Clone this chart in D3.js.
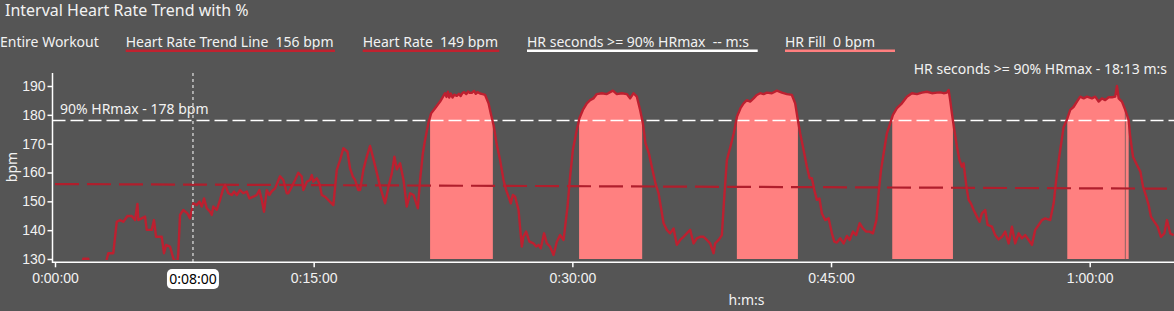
<!DOCTYPE html>
<html><head><meta charset="utf-8">
<script src="https://cdn.jsdelivr.net/npm/d3@7"></script>
<style>
html,body{margin:0;padding:0;background:#555555;overflow:hidden}
svg{display:block;font-family:"Segoe UI","Noto Sans",sans-serif}
text{white-space:pre}
</style></head><body>
<svg id="c" width="1174" height="311"></svg>
<script>
// ---------------- DATA ----------------
const hrMinutes = [0.00,1.00,1.60,1.64,1.93,1.97,2.50,2.95,3.00,3.09,3.38,3.58,3.77,3.96,4.20,4.45,4.64,4.78,4.83,5.22,5.32,5.61,5.74,5.86,6.19,6.32,6.44,6.67,6.86,7.00,7.10,7.15,7.25,7.44,7.68,7.83,7.93,8.02,8.22,8.37,8.51,8.64,8.80,8.99,9.09,9.18,9.38,9.57,9.73,9.86,10.05,10.25,10.38,10.54,10.73,10.92,11.12,11.27,11.50,11.70,11.85,11.99,12.12,12.28,12.43,12.57,12.76,13.05,13.24,13.44,13.53,13.73,13.92,14.11,14.31,14.40,14.60,14.79,14.89,14.98,15.18,15.33,15.47,15.66,16.14,16.34,16.53,16.72,16.96,17.11,17.27,17.40,17.59,17.69,17.88,18.08,18.27,18.43,18.62,18.85,19.14,19.34,19.53,19.68,19.82,20.01,20.21,20.40,20.59,20.79,21.04,21.17,21.33,21.46,21.65,21.81,22.04,22.33,22.62,22.70,22.78,22.86,22.95,23.05,23.15,23.30,23.42,23.52,23.62,23.72,23.85,23.95,24.05,24.17,24.30,24.40,24.50,24.65,24.80,24.94,25.14,25.27,25.43,25.62,25.81,26.01,26.16,26.30,26.43,26.55,26.68,26.88,27.07,27.16,27.32,27.51,27.75,27.90,28.04,28.17,28.36,28.52,28.71,28.91,29.10,29.29,29.49,29.72,29.87,30.03,30.22,30.41,30.61,30.84,31.03,31.22,31.42,31.71,32.00,32.35,32.58,32.87,33.16,33.35,33.55,33.74,33.93,34.09,34.24,34.44,34.63,34.82,35.00,35.29,35.48,35.67,35.87,36.06,36.25,36.45,36.64,36.83,37.03,37.22,37.41,37.61,37.80,37.99,38.19,38.28,38.48,38.67,38.81,38.96,39.17,39.36,39.55,39.75,39.93,40.12,40.31,40.51,40.70,40.89,41.09,41.28,41.57,41.86,42.15,42.44,42.73,42.92,43.06,43.21,43.41,43.60,43.76,43.89,44.03,44.18,44.33,44.47,44.66,44.86,45.05,45.19,45.34,45.53,45.73,45.92,46.08,46.27,46.46,46.66,46.85,47.04,47.24,47.43,47.63,47.76,47.90,48.05,48.24,48.43,48.59,48.82,49.11,49.40,49.69,49.98,50.27,50.56,50.85,51.14,51.33,51.53,51.72,51.82,51.91,52.01,52.15,52.30,52.45,52.59,52.69,52.78,52.88,52.98,53.11,53.27,53.46,53.61,53.75,53.94,54.08,54.33,54.52,54.72,54.91,55.10,55.30,55.49,55.68,55.88,56.07,56.26,56.46,56.65,56.84,57.04,57.23,57.42,57.71,57.91,58.10,58.29,58.49,58.68,58.87,59.07,59.26,59.45,59.65,59.84,60.13,60.32,60.52,60.71,60.90,61.10,61.29,61.48,61.58,61.68,61.87,62.06,62.26,62.35,62.51,62.74,62.94,63.09,63.28,63.42,63.55,63.75,63.94,64.13,64.33,64.48,64.67,64.87];
const hrBpm = [122,124,127,130.1,130.1,127,126,128.5,129.9,132.0,132.0,142.9,143.5,142.9,144.9,144.9,143.5,149.1,143.5,144.7,140.1,140.1,143.5,137.7,137.7,132.0,134.9,134.3,130.2,129.0,129.3,132.0,145.3,147.0,145.8,144.1,147.0,149.3,148.7,149.9,148.2,151.0,147.6,146.4,145.3,148.2,147.0,150.5,153.9,155.7,152.8,152.2,153.4,152.2,153.9,152.8,153.4,151.0,151.6,152.2,153.9,150.5,146.4,153.9,152.2,153.5,154.5,158.7,157.4,152.8,152.8,155.1,157.4,159.9,158.6,153.9,156.8,157.4,159.1,156.8,158.0,156.2,152.2,151.6,148.7,160.9,164.3,168.4,167.2,161.4,158.6,157.4,153.9,153.9,160.9,165.5,169.2,165.5,160.9,155.1,149.3,155.1,159.7,165.5,161.1,163.2,157.4,148.2,152.8,152.2,147.6,157.4,166.6,171.3,177.1,180.5,182.3,184.6,187.5,186.2,188.0,186.0,187.4,186.0,187.0,186.6,187.3,186.5,187.5,187.9,187.2,188.1,187.6,187.6,188.3,187.3,187.9,187.4,187.2,186.9,184.0,180.5,176.5,169.5,164.3,157.4,153.9,151.6,149.3,152.2,151.6,147.0,134.3,137.7,139.5,136.0,135.4,134.3,134.9,133.7,138.9,135.4,134.3,131.4,136.0,138.3,136.6,148.2,158.6,167.8,173.6,178.8,181.7,184.0,185.1,185.7,187.2,187.5,187.2,188.4,187.2,187.5,187.2,185.7,187.5,186.3,181.7,177.1,170.1,166.6,161.4,156.2,152.8,142.4,140.1,138.9,140.6,134.9,136.6,137.7,138.9,140.1,135.4,137.2,137.7,137.7,136.6,135.4,132.0,135.4,136.6,138.3,151.6,164.3,169.0,173.6,179.4,182.3,184.0,185.1,184.6,185.7,186.9,187.5,187.2,187.7,187.5,188.4,187.7,187.2,186.9,184.0,178.8,173.6,167.8,162.0,158.0,158.0,153.9,150.5,151.0,145.8,143.5,144.1,138.9,136.0,135.7,137.2,135.4,138.0,136.6,139.5,138.3,142.4,140.6,139.5,139.5,138.9,143.5,152.8,160.9,166.6,173.6,177.0,180.0,182.3,184.0,186.3,187.5,187.2,187.7,188.0,187.5,187.7,187.8,187.5,187.7,188.6,185.1,180.5,174.7,169.0,164.3,162.0,163.2,158.6,153.9,150.5,149.3,147.0,144.7,142.9,145.8,147.0,141.8,141.2,138.3,136.8,137.7,139.5,135.4,141.2,135.4,138.9,137.2,138.3,136.6,134.9,140.1,141.8,143.5,144.1,143.5,149.3,159.7,167.8,175.8,178.3,181.7,182.8,184.6,186.3,185.7,186.3,185.7,186.3,184.6,185.7,185.1,186.1,186.1,186.3,190.0,185.7,184.6,181.7,178.2,172.4,165.5,162.6,160.3,155.1,151.6,148.7,144.7,142.9,141.2,137.7,138.9,143.5,138.9,138.3];
const fillStartMinutes = [21.75, 30.39, 39.54, 48.55, 58.70, 62.08];
const fillEndMinutes   = [25.39, 34.05, 43.08, 52.07, 62.04, 62.26];
const trendMinutes = [0, 64.5];
const trendBpm = [156.0, 154.4];
const hrMaxBpm = 178;
const cursorMinute = 8;
const xTickMinutes = [0, 15, 30, 45, 60];
const yTickBpm = [130, 140, 150, 160, 170, 180, 190];
const titleText = "Interval Heart Rate Trend with %";
const legendLabels = ["Entire Workout", "Heart Rate Trend Line  156 bpm", "Heart Rate  149 bpm", "HR seconds >= 90% HRmax  -- m:s", "HR Fill  0 bpm"];
const hrMaxLabel = "90% HRmax - 178 bpm";
const secondsLabel = "HR seconds >= 90% HRmax - 18:13 m:s";

// ---------------- DRAW ----------------
const svg = d3.select("#c");
const W = 1174, H = 311;
const C = {bg:"#555555", text:"#f2f2f2", line:"#bd2030", trend:"#b01e2c", fill:"#ff8080"};

const x = d3.scaleLinear().domain([0, 65]).range([55, 55 + 65 * 17.245]);
const y = d3.scaleLinear().domain([130, 190]).range([259, 86]);
const plotTop = 73, axisY = 262.3, axisX = 52.5;

const fmt = m => { const s = Math.round(m*60); const h = Math.floor(s/3600), mm = Math.floor((s%3600)/60), ss = s%60;
  return h + ":" + String(mm).padStart(2,"0") + ":" + String(ss).padStart(2,"0"); };

const hr = hrMinutes.map((t,i) => [t, hrBpm[i]]);
const defs = svg.append("defs");
defs.append("clipPath").attr("id","plot").append("rect")
  .attr("x", axisX + 1).attr("y", plotTop).attr("width", W - axisX).attr("height", 260 - plotTop);

// title
svg.append("text").attr("x", 5).attr("y", 16).attr("fill", C.text).attr("font-size", 16).text(titleText);

// legend
const legX = [0, 125.7, 362.7, 527, 785];
const legEnd = [null, 335, 499.3, 757.7, 895];
const legColor = [null, "#c0222f", "#c0222f", "#ffffff", "#ff7f7f"];
legendLabels.forEach((l,i) => {
  svg.append("text").attr("x", legX[i]).attr("y", 47).attr("fill", C.text).attr("font-size", 14)
    .attr("xml:space","preserve").text(l);
  if (legEnd[i]) svg.append("line").attr("x1", legX[i]).attr("x2", legEnd[i]).attr("y1", 50.7).attr("y2", 50.7)
    .attr("stroke", legColor[i]).attr("stroke-width", 2.5);
});
svg.append("text").attr("x", 1167).attr("y", 74).attr("text-anchor","end").attr("fill", C.text).attr("font-size", 14).text(secondsLabel);

// fills
const area = d3.area().x(d => x(d[0])).y0(y(130)).y1(d => y(d[1]));
fillStartMinutes.forEach((s,i) => {
  defs.append("clipPath").attr("id","f"+i).append("rect")
    .attr("x", x(s)).attr("width", x(fillEndMinutes[i]) - x(s)).attr("y", 0).attr("height", H);
  svg.append("g").attr("clip-path","url(#plot)").append("path").attr("d", area(hr))
    .attr("clip-path","url(#f"+i+")").attr("fill", C.fill);
});

// HRmax line
svg.append("line").attr("x1", axisX).attr("x2", W).attr("y1", y(hrMaxBpm)).attr("y2", y(hrMaxBpm))
  .attr("stroke", "#ffffff").attr("stroke-width", 1.5).attr("stroke-dasharray", "13,5");
svg.append("text").attr("x", 60).attr("y", 113.5).attr("fill", C.text).attr("font-size", 14).text(hrMaxLabel);

// trend line
const lineGen = d3.line().x(d => x(d[0])).y(d => y(d[1]));
svg.append("path").attr("d", lineGen(trendMinutes.map((t,i)=>[t, trendBpm[i]])))
  .attr("fill","none").attr("stroke", C.trend).attr("stroke-width", 2.2).attr("stroke-dasharray","24,8");

// HR line
svg.append("g").attr("clip-path","url(#plot)").append("path").attr("d", lineGen(hr))
  .attr("fill","none").attr("stroke", C.line).attr("stroke-width", 2.4).attr("stroke-linejoin","round");

// cursor
svg.append("line").attr("x1", x(cursorMinute)).attr("x2", x(cursorMinute)).attr("y1", plotTop).attr("y2", axisY)
  .attr("stroke", "#b4b4b4").attr("stroke-width", 1.8).attr("stroke-dasharray", "3,3");

// axes
const yAxis = svg.append("g").attr("transform", `translate(${axisX},0)`)
  .call(d3.axisLeft(y).tickValues(yTickBpm).tickSize(5).tickPadding(2));
yAxis.select(".domain").remove();
yAxis.selectAll("line").attr("stroke", "#ffffff").attr("stroke-width", 1.5);
yAxis.selectAll("text").attr("fill", C.text).attr("font-size", 14).attr("font-family", null);
svg.append("line").attr("x1", axisX).attr("x2", axisX).attr("y1", plotTop).attr("y2", axisY + 0.7)
  .attr("stroke","#ffffff").attr("stroke-width", 1.5);

const xAxis = svg.append("g").attr("transform", `translate(0,${axisY})`)
  .call(d3.axisBottom(x).tickValues(xTickMinutes).tickFormat(fmt).tickSize(5).tickPadding(6));
xAxis.select(".domain").remove();
xAxis.selectAll("line").attr("stroke", "#ffffff").attr("stroke-width", 1.5);
xAxis.selectAll("text").attr("fill", C.text).attr("font-size", 14).attr("font-family", null);
svg.append("line").attr("x1", axisX).attr("x2", W).attr("y1", axisY).attr("y2", axisY)
  .attr("stroke","#ffffff").attr("stroke-width", 1.5);

// cursor label
const cx = x(cursorMinute);
svg.append("rect").attr("x", cx - 26).attr("y", 269).attr("width", 52).attr("height", 20).attr("rx", 5).attr("fill", "#ffffff");
svg.append("text").attr("x", cx).attr("y", 284).attr("text-anchor","middle").attr("fill","#000").attr("font-size",14).text(fmt(cursorMinute));

// axis titles
svg.append("text").attr("transform", "translate(17,167) rotate(-90)").attr("text-anchor","middle")
  .attr("fill", C.text).attr("font-size", 14).text("bpm");
svg.append("text").attr("x", 746.5).attr("y", 305).attr("text-anchor","middle").attr("fill", C.text).attr("font-size", 14).text("h:m:s");
</script></body></html>
